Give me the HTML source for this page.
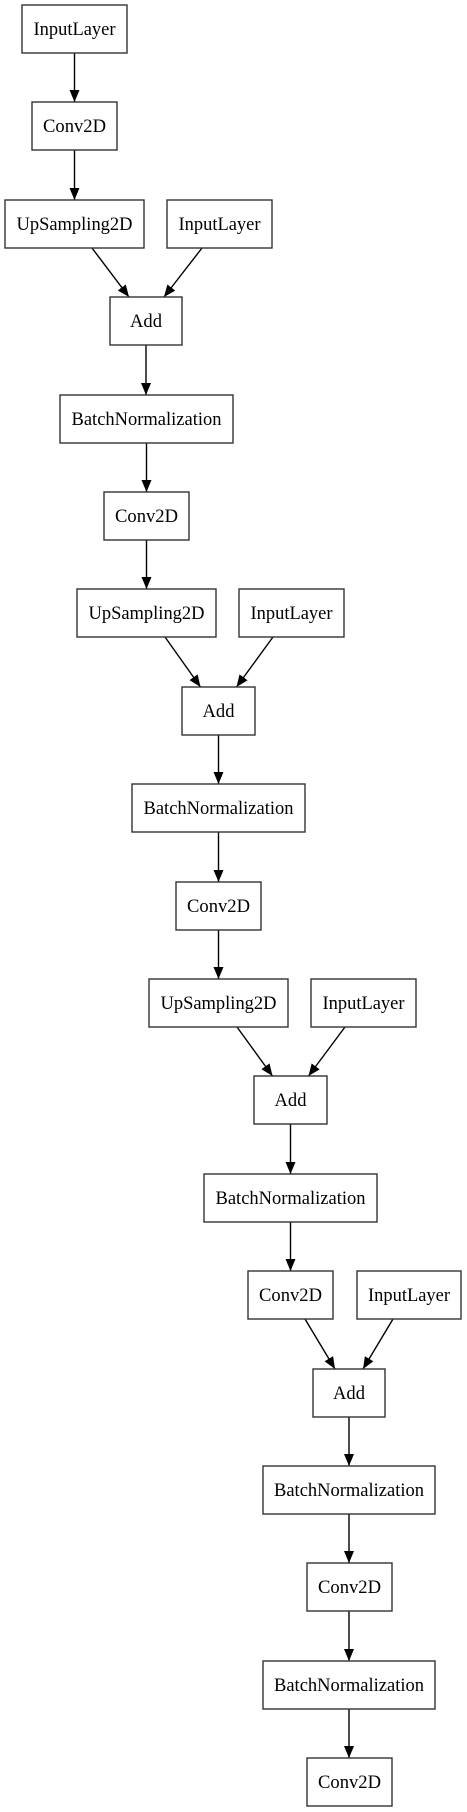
<!DOCTYPE html>
<html><head><meta charset="utf-8"><style>
html,body{margin:0;padding:0;background:#fff;}
svg{display:block}
text{font-family:"Liberation Serif",serif;font-size:18.5px;fill:#000;text-anchor:middle}
rect{fill:#fff;stroke:#333;stroke-width:1.4}
line{stroke:#000;stroke-width:1.4}
</style></head><body>
<svg width="467" height="1812" viewBox="0 0 467 1812" xmlns="http://www.w3.org/2000/svg">
<defs><marker id="a" markerUnits="userSpaceOnUse" markerWidth="12" markerHeight="10" refX="12" refY="5" orient="auto"><path d="M0,0 L12,5 L0,10 Z" fill="#000"/></marker></defs>
<g>
<line x1="74.5" y1="53" x2="74.5" y2="102" marker-end="url(#a)"/>
<line x1="74.5" y1="150" x2="74.5" y2="200" marker-end="url(#a)"/>
<line x1="92" y1="248" x2="129" y2="297" marker-end="url(#a)"/>
<line x1="202" y1="248" x2="164" y2="297" marker-end="url(#a)"/>
<line x1="146" y1="345" x2="146" y2="395" marker-end="url(#a)"/>
<line x1="146.5" y1="443" x2="146.5" y2="492" marker-end="url(#a)"/>
<line x1="146.5" y1="540" x2="146.5" y2="589" marker-end="url(#a)"/>
<line x1="165" y1="637" x2="200.5" y2="687" marker-end="url(#a)"/>
<line x1="273" y1="637" x2="236.5" y2="687" marker-end="url(#a)"/>
<line x1="218.5" y1="735" x2="218.5" y2="784" marker-end="url(#a)"/>
<line x1="218.5" y1="832" x2="218.5" y2="882" marker-end="url(#a)"/>
<line x1="218.5" y1="930" x2="218.5" y2="979" marker-end="url(#a)"/>
<line x1="237" y1="1027" x2="272.5" y2="1076" marker-end="url(#a)"/>
<line x1="345" y1="1027" x2="308.5" y2="1076" marker-end="url(#a)"/>
<line x1="290.5" y1="1124" x2="290.5" y2="1174" marker-end="url(#a)"/>
<line x1="290.5" y1="1222" x2="290.5" y2="1271" marker-end="url(#a)"/>
<line x1="305" y1="1319" x2="335" y2="1369" marker-end="url(#a)"/>
<line x1="393" y1="1319" x2="363" y2="1369" marker-end="url(#a)"/>
<line x1="349" y1="1417" x2="349" y2="1466" marker-end="url(#a)"/>
<line x1="349" y1="1514" x2="349" y2="1563" marker-end="url(#a)"/>
<line x1="349" y1="1611" x2="349" y2="1661" marker-end="url(#a)"/>
<line x1="349" y1="1709" x2="349" y2="1758" marker-end="url(#a)"/>
</g>
<rect x="22" y="5" width="105" height="48"/><text x="74.5" y="35" textLength="82" lengthAdjust="spacingAndGlyphs">InputLayer</text>
<rect x="32" y="102" width="85" height="48"/><text x="74.5" y="132" textLength="63" lengthAdjust="spacingAndGlyphs">Conv2D</text>
<rect x="5" y="200" width="139" height="48"/><text x="74.5" y="230" textLength="116" lengthAdjust="spacingAndGlyphs">UpSampling2D</text>
<rect x="167" y="200" width="105" height="48"/><text x="219.5" y="230" textLength="82" lengthAdjust="spacingAndGlyphs">InputLayer</text>
<rect x="110" y="297" width="72" height="48"/><text x="146" y="327" textLength="32" lengthAdjust="spacingAndGlyphs">Add</text>
<rect x="60" y="395" width="173" height="48"/><text x="146.5" y="425" textLength="150" lengthAdjust="spacingAndGlyphs">BatchNormalization</text>
<rect x="104" y="492" width="85" height="48"/><text x="146.5" y="522" textLength="63" lengthAdjust="spacingAndGlyphs">Conv2D</text>
<rect x="77" y="589" width="139" height="48"/><text x="146.5" y="619" textLength="116" lengthAdjust="spacingAndGlyphs">UpSampling2D</text>
<rect x="239" y="589" width="105" height="48"/><text x="291.5" y="619" textLength="82" lengthAdjust="spacingAndGlyphs">InputLayer</text>
<rect x="182" y="687" width="73" height="48"/><text x="218.5" y="717" textLength="32" lengthAdjust="spacingAndGlyphs">Add</text>
<rect x="132" y="784" width="173" height="48"/><text x="218.5" y="814" textLength="150" lengthAdjust="spacingAndGlyphs">BatchNormalization</text>
<rect x="176" y="882" width="85" height="48"/><text x="218.5" y="912" textLength="63" lengthAdjust="spacingAndGlyphs">Conv2D</text>
<rect x="149" y="979" width="139" height="48"/><text x="218.5" y="1009" textLength="116" lengthAdjust="spacingAndGlyphs">UpSampling2D</text>
<rect x="311" y="979" width="105" height="48"/><text x="363.5" y="1009" textLength="82" lengthAdjust="spacingAndGlyphs">InputLayer</text>
<rect x="254" y="1076" width="73" height="48"/><text x="290.5" y="1106" textLength="32" lengthAdjust="spacingAndGlyphs">Add</text>
<rect x="204" y="1174" width="173" height="48"/><text x="290.5" y="1204" textLength="150" lengthAdjust="spacingAndGlyphs">BatchNormalization</text>
<rect x="248" y="1271" width="85" height="48"/><text x="290.5" y="1301" textLength="63" lengthAdjust="spacingAndGlyphs">Conv2D</text>
<rect x="357" y="1271" width="104" height="48"/><text x="409" y="1301" textLength="82" lengthAdjust="spacingAndGlyphs">InputLayer</text>
<rect x="313" y="1369" width="72" height="48"/><text x="349" y="1399" textLength="32" lengthAdjust="spacingAndGlyphs">Add</text>
<rect x="263" y="1466" width="172" height="48"/><text x="349" y="1496" textLength="150" lengthAdjust="spacingAndGlyphs">BatchNormalization</text>
<rect x="307" y="1563" width="85" height="48"/><text x="349.5" y="1593" textLength="63" lengthAdjust="spacingAndGlyphs">Conv2D</text>
<rect x="263" y="1661" width="172" height="48"/><text x="349" y="1691" textLength="150" lengthAdjust="spacingAndGlyphs">BatchNormalization</text>
<rect x="307" y="1758" width="85" height="48"/><text x="349.5" y="1788" textLength="63" lengthAdjust="spacingAndGlyphs">Conv2D</text>
</svg>
</body></html>
